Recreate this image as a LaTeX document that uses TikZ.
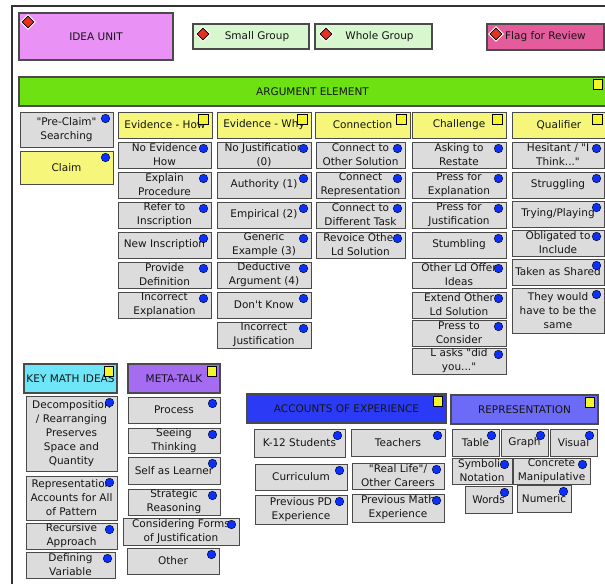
\documentclass[tikz,border=0pt]{standalone}
\usepackage{fontspec}
\newfontfamily\uif{DejaVu Sans}
\usetikzlibrary{shapes.geometric}
\definecolor{bord}{HTML}{4A4A4A}
\definecolor{txt}{HTML}{151515}
\definecolor{gfill}{HTML}{DCDCDC}
\definecolor{yfill}{HTML}{F6F67A}
\definecolor{vfill}{HTML}{E991F4}
\definecolor{lgfill}{HTML}{D8F7CF}
\definecolor{pkfill}{HTML}{E55C9C}
\definecolor{grfill}{HTML}{6DE112}
\definecolor{cyfill}{HTML}{6FE6F7}
\definecolor{pufill}{HTML}{A56CF2}
\definecolor{blfill}{HTML}{2B3BF5}
\definecolor{lbfill}{HTML}{6B6BF7}
\definecolor{dotblue}{HTML}{0A2FFF}
\definecolor{sqyellow}{HTML}{F5F52E}
\definecolor{diared}{HTML}{E3321F}
\definecolor{frame}{HTML}{333333}
\tikzset{
  base/.style={draw=bord, line width=1pt, inner sep=0pt, align=center,
    text=txt, font=\uif\fontsize{10.5}{14}\selectfont},
  gbox/.style={base, fill=gfill},
  ybox/.style={base, fill=yfill},
  topbox/.style={base, line width=1.2pt},
  bdot/.style={circle, draw=black, line width=0.4pt, fill=dotblue, inner sep=0pt, minimum size=8.6pt},
  ysq/.style={rectangle, draw=black, line width=0.7pt, fill=sqyellow, inner sep=0pt, minimum size=9.5pt},
  rdia/.style={diamond, draw=black, line width=0.7pt, fill=diared, inner sep=0pt, minimum width=12pt, minimum height=12pt},
  wdia/.style={diamond, fill=white, inner sep=0pt, minimum width=16pt, minimum height=16pt},
}
\newcommand\mkbox[7]{%
  \pgfmathsetmacro\mybw{#5-#3}\pgfmathsetmacro\mybh{#6-#4}%
  \pgfmathsetmacro\mycx{(#3+#5)/2}\pgfmathsetmacro\mycy{(#4+#6)/2}%
  \node[#1, minimum width=\mybw pt, minimum height=\mybh pt] (#2) at (\mycx,\mycy) {#7};}
\newcommand\itm[6]{%
  \mkbox{gbox}{#1}{#2}{#3}{#4}{#5}{#6}%
  \node[bdot] (#1-d) at ([xshift=-8pt,yshift=-7pt]#1.north east) {};}
\newcommand\hdr[7]{%
  \mkbox{#1}{#2}{#3}{#4}{#5}{#6}{#7}%
  \node[ysq] (#2-s) at ([xshift=-9pt,yshift=-8pt]#2.north east) {};}
\newcommand\flagbox[8]{%
  \mkbox{#1}{#2}{#3}{#4}{#5}{#6}{#7}%
  \node[wdia] (#2-w) at (#8) {};
  \node[rdia] (#2-r) at (#8) {};}
\begin{document}
\begin{tikzpicture}[x=1pt,y=-1pt]
\useasboundingbox[fill=white] (0,0) rectangle (605,584);
% window frame
\coordinate (fa) at (12,584);
\coordinate (fb) at (12,6);
\coordinate (fc) at (606,6);
\draw[frame, line width=1.4pt] (fa) -- (fb) -- (fc);
% top row
\flagbox{topbox, fill=vfill}{idea}{19}{13}{173}{60}{IDEA UNIT}{28,22}
\flagbox{topbox, fill=lgfill}{small}{193}{24}{309}{49}{\hspace*{12pt}Small Group}{203,34}
\flagbox{topbox, fill=lgfill}{whole}{315}{24}{432}{49}{\hspace*{12pt}Whole Group}{326,34}
\flagbox{topbox, fill=pkfill}{flag}{487}{24}{604}{50}{Flag for Review}{496,34}
% argument element
\hdr{topbox, fill=grfill}{arg}{19}{77}{606}{106}{ARGUMENT ELEMENT}
% claim column
\itm{pre}{20}{112}{113}{147}{"Pre-Claim"\\Searching}
\mkbox{ybox}{claim}{20}{151}{113}{184}{Claim}
\node[bdot] (claim-d) at ([xshift=-8pt,yshift=-7pt]claim.north east) {};
% headers
\hdr{ybox}{evhow}{118}{112}{212}{138}{Evidence - How}
\hdr{ybox}{evwhy}{217}{112}{311}{138}{Evidence - Why}
\hdr{ybox}{conn}{315}{112}{410}{138}{Connection}
\hdr{ybox}{chal}{412}{112}{506}{138}{Challenge}
\hdr{ybox}{qual}{512}{112}{606}{138}{Qualifier}
% evidence how
\itm{h1}{118}{142}{211}{168}{No Evidence\\How}
\itm{h2}{118}{172}{211}{198}{Explain\\Procedure}
\itm{h3}{118}{202}{211}{228}{Refer to\\Inscription}
\itm{h4}{118}{232}{211}{258}{New Inscription}
\itm{h5}{118}{262}{211}{288}{Provide\\Definition}
\itm{h6}{118}{292}{211}{318}{Incorrect\\Explanation}
% evidence why
\itm{w1}{217}{142}{311}{168}{No Justification\\(0)}
\itm{w2}{217}{172}{311}{198}{Authority (1)}
\itm{w3}{217}{202}{311}{228}{Empirical (2)}
\itm{w4}{217}{232}{311}{258}{Generic\\Example (3)}
\itm{w5}{217}{262}{311}{288}{Deductive\\Argument (4)}
\itm{w6}{217}{292}{311}{318}{Don't Know}
\itm{w7}{217}{322}{311}{348}{Incorrect\\Justification}
% connection
\itm{c1}{316}{142}{405}{168}{Connect to\\Other Solution}
\itm{c2}{316}{172}{405}{198}{Connect\\Representation}
\itm{c3}{316}{202}{405}{228}{Connect to\\Different Task}
\itm{c4}{316}{232}{405}{258}{Revoice Other\\Ld Solution}
% challenge
\itm{k1}{412}{142}{506}{168}{Asking to\\Restate}
\itm{k2}{412}{172}{506}{198}{Press for\\Explanation}
\itm{k3}{412}{202}{506}{228}{Press for\\Justification}
\itm{k4}{412}{232}{506}{258}{Stumbling}
\itm{k5}{412}{262}{506}{288}{Other Ld Offer\\Ideas}
\itm{k6}{412}{292}{506}{318}{Extend Other\\Ld Solution}
\itm{k7}{412}{320}{506}{346}{Press to\\Consider}
\itm{k8}{412}{348}{506}{374}{L asks "did\\you..."}
% qualifier
\itm{q1}{512}{142}{604}{168}{Hesitant / "I\\Think..."}
\itm{q2}{512}{172}{604}{198}{Struggling}
\itm{q3}{512}{201}{604}{227}{Trying/Playing}
\itm{q4}{512}{230}{604}{256}{Obligated to\\Include}
\itm{q5}{512}{259}{604}{285}{Taken as Shared}
\itm{q6}{512}{288}{604}{333}{They would\\have to be the\\same}
% key math ideas
\hdr{topbox, fill=cyfill}{key}{24}{364}{117}{393}{KEY MATH IDEAS}
\itm{m1}{26}{396}{117}{471}{Decomposition\\/ Rearranging\\Preserves\\Space and\\Quantity}
\itm{m2}{26}{476}{117}{520}{Representation\\Accounts for All\\of Pattern}
\itm{m3}{26}{523}{117}{549}{Recursive\\Approach}
\itm{m4}{26}{552}{115}{578}{Defining\\Variable}
% meta-talk
\hdr{topbox, fill=pufill}{meta}{128}{364}{220}{393}{META-TALK}
\itm{t1}{128}{397}{220}{423}{Process}
\itm{t2}{128}{428}{220}{453}{Seeing\\Thinking}
\itm{t3}{128}{457}{220}{484}{Self as Learner}
\itm{t4}{128}{489}{220}{515}{Strategic\\Reasoning}
\itm{t5}{123}{518}{239}{545}{Considering Forms\\of Justification}
\itm{t6}{127}{548}{219}{574}{Other}
% accounts of experience
\hdr{topbox, fill=blfill}{acc}{247}{394}{446}{423}{ACCOUNTS OF EXPERIENCE}
\itm{a1}{254}{429}{345}{457}{K-12 Students}
\itm{a2}{351}{429}{445}{456}{Teachers}
\itm{a3}{255}{464}{347}{490}{Curriculum}
\itm{a4}{352}{463}{444}{489}{"Real Life"/\\Other Careers}
\itm{a5}{255}{495}{347}{524}{Previous PD\\Experience}
\itm{a6}{352}{494}{444}{522}{Previous Math\\Experience}
% representation
\hdr{topbox, fill=lbfill}{rep}{451}{395}{598}{424}{REPRESENTATION}
\itm{r1}{452}{429}{499}{456}{Table}
\itm{r2}{501}{429}{548}{456}{Graph}
\itm{r3}{550}{429}{597}{456}{Visual}
\itm{r4}{452}{458}{512}{484}{Symbolic\\Notation}
\itm{r5}{513}{458}{590}{484}{Concrete\\Manipulative}
\itm{r6}{465}{486}{512}{513}{Words}
\itm{r7}{517}{485}{571}{512}{Numeric}
\end{tikzpicture}
\end{document}
